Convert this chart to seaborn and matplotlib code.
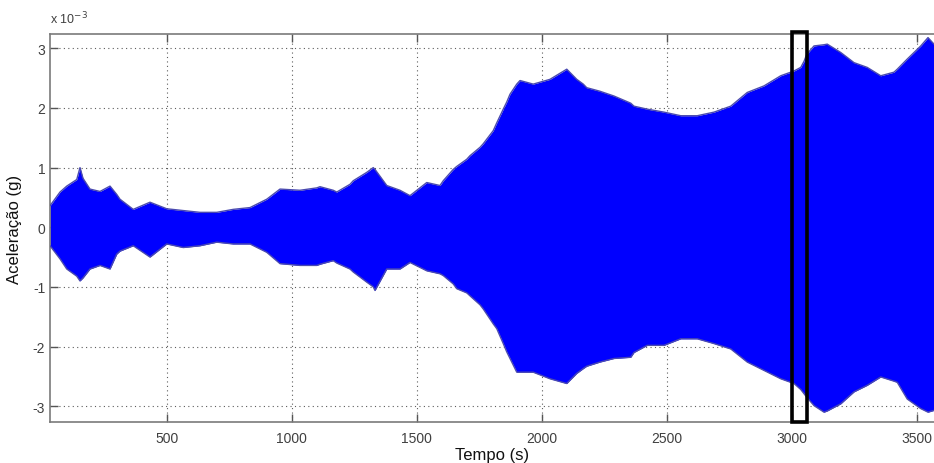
import numpy as np
import pandas as pd
import matplotlib
matplotlib.use("Agg")
import matplotlib.pyplot as plt
import seaborn as sns
from matplotlib.patches import Rectangle

# Envelope of the acceleration record (values in 10^-3 g)
time_s = [33, 73, 100, 140, 153, 165, 193, 233, 273, 300, 313, 366, 433, 500, 566,
          633, 700, 766, 833, 900, 953, 1033, 1100, 1113, 1166, 1180, 1233, 1246,
          1300, 1326, 1333, 1380, 1433, 1473, 1540, 1593, 1606, 1646, 1660, 1700,
          1713, 1753, 1766, 1806, 1820, 1846, 1860, 1873, 1900, 1913, 1966, 2033,
          2100, 2140, 2166, 2180, 2233, 2289, 2356, 2369, 2422, 2489, 2556, 2622,
          2689, 2756, 2822, 2889, 2956, 2996, 3009, 3036, 3049, 3060, 3089, 3129,
          3142, 3196, 3249, 3302, 3356, 3409, 3422, 3462, 3516, 3545, 3569]
accel_upper = [0.36, 0.59, 0.69, 0.80, 1.00, 0.82, 0.64, 0.60, 0.69, 0.55, 0.47, 0.30,
               0.42, 0.31, 0.28, 0.25, 0.25, 0.30, 0.33, 0.47, 0.64, 0.62, 0.66, 0.68,
               0.62, 0.59, 0.72, 0.78, 0.92, 1.00, 0.97, 0.70, 0.62, 0.53, 0.75, 0.70,
               0.78, 0.97, 1.02, 1.14, 1.20, 1.34, 1.40, 1.62, 1.75, 1.98, 2.10, 2.23,
               2.40, 2.46, 2.40, 2.48, 2.65, 2.48, 2.40, 2.34, 2.28, 2.20, 2.08, 2.03,
               1.98, 1.93, 1.87, 1.87, 1.93, 2.03, 2.26, 2.37, 2.54, 2.60, 2.62, 2.68,
               2.78, 2.90, 3.04, 3.06, 3.07, 2.93, 2.76, 2.68, 2.54, 2.60, 2.65, 2.82,
               3.04, 3.18, 3.07]
accel_lower = [-0.31, -0.53, -0.70, -0.82, -0.90, -0.85, -0.70, -0.64, -0.70, -0.45,
               -0.40, -0.31, -0.50, -0.28, -0.34, -0.31, -0.25, -0.28, -0.28, -0.42,
               -0.61, -0.64, -0.64, -0.62, -0.56, -0.60, -0.70, -0.75, -0.92, -1.00,
               -1.06, -0.70, -0.70, -0.59, -0.73, -0.78, -0.81, -0.95, -1.03, -1.10,
               -1.15, -1.30, -1.37, -1.62, -1.70, -1.95, -2.09, -2.20, -2.43, -2.43,
               -2.43, -2.54, -2.62, -2.45, -2.37, -2.33, -2.26, -2.20, -2.18, -2.10,
               -1.98, -1.98, -1.87, -1.87, -1.95, -2.04, -2.26, -2.40, -2.54, -2.60,
               -2.62, -2.72, -2.79, -2.85, -2.99, -3.10, -3.08, -2.96, -2.76, -2.65,
               -2.51, -2.58, -2.60, -2.88, -3.04, -3.10, -3.07]

x_ticks = [500, 1000, 1500, 2000, 2500, 3000, 3500]
y_ticks = [-3, -2, -1, 0, 1, 2, 3]
window_start, window_end = 3000, 3060

df = pd.DataFrame({"t": time_s, "upper": accel_upper, "lower": accel_lower})

sns.set_style("white")
plt.rcParams["font.family"] = ["Liberation Sans", "DejaVu Sans"]

fig = plt.figure(figsize=(9.34, 4.64), dpi=100)
ax = fig.add_axes([50 / 934, 1 - 423.3 / 464, 1 - 50 / 934, (423.3 - 35) / 464])

signal_blue = "#0000ff"
ax.fill_between(df["t"], df["lower"], df["upper"], color=signal_blue, lw=0, zorder=2)
sns.lineplot(data=df, x="t", y="upper", ax=ax, color="#4a4ab0", lw=1.0, zorder=3)
sns.lineplot(data=df, x="t", y="lower", ax=ax, color="#4a4ab0", lw=1.0, zorder=3)

ax.set_xlim(33, 3569)
ax.set_ylim(-3.27, 3.24)
ax.set_xticks(x_ticks)
ax.set_yticks(y_ticks)
ax.set_xticklabels([str(v) for v in x_ticks])
ax.set_yticklabels([str(v) for v in y_ticks])
ax.set_xlabel("")
ax.set_ylabel("")

ax.grid(True, linestyle=(0, (1, 3)), color="#333333", lw=0.8, alpha=0.8)
for g in ax.get_xgridlines() + ax.get_ygridlines():
    g.set_zorder(1.5)

for s in ax.spines.values():
    s.set_color("#7a7a7a")
    s.set_linewidth(1.2)
ax.spines["right"].set_visible(False)

ax.tick_params(axis="both", direction="in", length=6, width=1, color="#555555",
               labelsize=10, labelcolor="#404040", top=True, bottom=True, left=True)
ax.tick_params(axis="x", pad=6)

ax.set_xlabel("Tempo (s)", fontsize=12, color="#111111", labelpad=2)
ax.set_ylabel("Aceleração (g)", fontsize=12, color="#111111", labelpad=8)
ax.text(0.0, 1.02, r"x 10$^{-3}$", transform=ax.transAxes, fontsize=9,
        color="#404040", ha="left", va="bottom")

# Highlighted analysis window
rect = Rectangle((window_start, -3.26), window_end - window_start, 6.53,
                 fill=False, edgecolor="black", lw=2.6, zorder=5, clip_on=False)
ax.add_patch(rect)

fig.savefig("out.png", dpi=100)
